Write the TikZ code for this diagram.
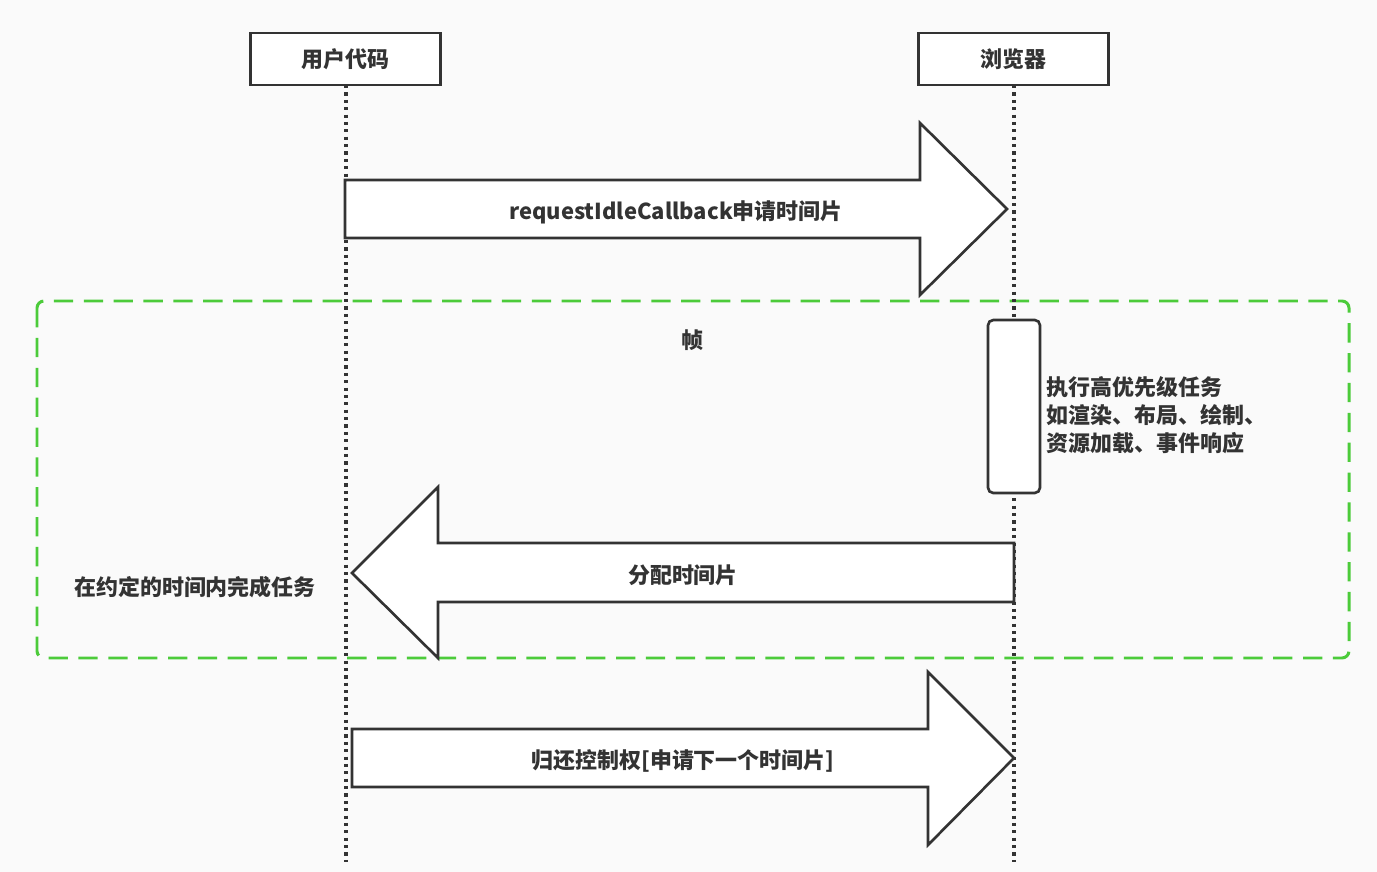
\documentclass[tikz,border=0pt]{standalone}
\usepackage{fontspec}
\setmainfont{Noto Sans CJK SC}
\usepackage{xcolor}
\usetikzlibrary{positioning}
\definecolor{tinta}{HTML}{333333}
\definecolor{marco}{HTML}{4CCB3A}
\definecolor{fondo}{HTML}{FAFAFA}

\begin{document}
\begin{tikzpicture}[
    x=0.02cm, y=-0.02cm,
    font=\fontsize{12.5}{16}\selectfont\bfseries,
    text=tinta,
    actor/.style={draw=tinta, line width=1.7pt, fill=white,
                  minimum width=3.82cm, minimum height=1.04cm, inner sep=0pt},
    vida/.style={draw=tinta, line width=1.9pt, dash pattern=on 1.8pt off 2.4pt},
    flecha/.style={draw=tinta, line width=1.5pt, fill=white, line join=miter},
    marcoframe/.style={draw=marco, line width=1.7pt, dash pattern=on 11pt off 6pt,
                  rounded corners=4pt},
    activo/.style={draw=tinta, line width=1.5pt, fill=white, rounded corners=3pt}
  ]
    \fill[fondo] (0,0) rectangle (1377,872);
    \useasboundingbox (0,0) rectangle (1377,872);

    % marco del frame
    \draw[marcoframe] (37,301) rectangle (1349,658);
    \node (frame) at (692,340) {帧};

    % participantes
    \node[actor] (codigo) at (345.5,59) {用户代码};
    \node[actor] (nav) at (1013.5,59) {浏览器};
    \coordinate (codigofin) at (346,862);
    \coordinate (navfin) at (1014,862);
    \draw[vida] (346,85) -- (codigofin);
    \draw[vida] (1014,85) -- (navfin);

    % solicitud
    \draw[flecha] (345,180) -- (920,180) -- (920,123) -- (1007,209)
      -- (920,295) -- (920,238) -- (345,238) -- cycle;
    \node (pedir) at (676,212) {requestIdleCallback申请时间片};

    % tareas del navegador
    \draw[activo] (988,320) rectangle (1040,493);
    \node[align=left, anchor=north west, inner sep=0pt] (tareas) at (1046,376)
      {执行高优先级任务\\如渲染、布局、绘制、\\资源加载、事件响应};

    % asignacion
    \draw[flecha] (1014,543) -- (438,543) -- (438,487) -- (352,573)
      -- (438,658) -- (438,602) -- (1014,602) -- cycle;
    \node (asignar) at (683,575) {分配时间片};
    \node (cumplir) at (195,587) {在约定的时间内完成任务};

    % devolucion
    \draw[flecha] (352,729) -- (928,729) -- (928,672) -- (1014,758)
      -- (928,845) -- (928,787) -- (352,787) -- cycle;
    \node (devolver) at (683,761) {归还控制权[申请下一个时间片]};
  \end{tikzpicture}
\end{document}
